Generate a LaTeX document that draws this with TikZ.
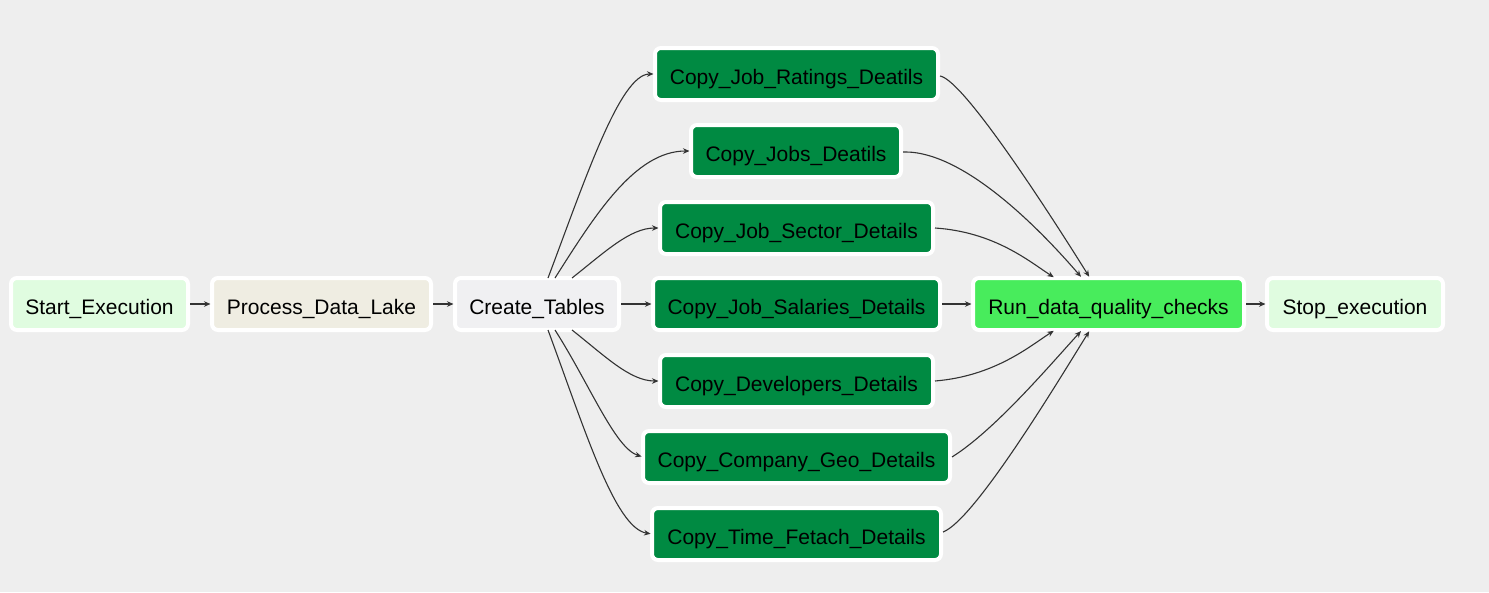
\documentclass[tikz,border=0pt]{standalone}
\usepackage{fontspec}
\setmainfont{Liberation Sans}
\usetikzlibrary{arrows.meta,calc}
\definecolor{bg}{HTML}{EEEEEE}
\definecolor{startc}{HTML}{E0FCE0}
\definecolor{procc}{HTML}{EFEDE2}
\definecolor{ctc}{HTML}{F0F0F2}
\definecolor{copyc}{HTML}{008A42}
\definecolor{runc}{HTML}{48EC5C}
\definecolor{edgec}{HTML}{333333}
\tikzset{
  task/.style={draw=white, line width=4pt, rounded corners=6pt, minimum height=52pt,
    inner sep=0pt, outer sep=0pt, text height=24pt, text depth=4pt,
    font=\fontsize{21}{24}\selectfont, text=black},
  edge/.style={draw=edgec, line width=1.1pt, -{Stealth[length=6.5pt,width=5.5pt]}, shorten >=1.5pt}
}
\begin{document}
\begin{tikzpicture}[x=1pt,y=-1pt]
\useasboundingbox (0,0) rectangle (1489,592);
\fill[bg] (0,0) rectangle (1489,592);
\node[task, fill=startc, minimum width=177pt] (st) at (99.5,304) {Start\_Execution};
\node[task, fill=procc, minimum width=219pt] (pd) at (321.5,304) {Process\_Data\_Lake};
\node[task, fill=ctc, minimum width=164pt] (ct) at (537,304) {Create\_Tables};
\node[task, fill=copyc, minimum width=283pt] (r1) at (796.5,74) {Copy\_Job\_Ratings\_Deatils};
\node[task, fill=copyc, minimum width=210pt] (r2) at (796,151) {Copy\_Jobs\_Deatils};
\node[task, fill=copyc, minimum width=273pt] (r3) at (796.5,228) {Copy\_Job\_Sector\_Details};
\node[task, fill=copyc, minimum width=287pt] (r4) at (796.5,304) {Copy\_Job\_Salaries\_Details};
\node[task, fill=copyc, minimum width=273pt] (r5) at (796.5,381) {Copy\_Developers\_Details};
\node[task, fill=copyc, minimum width=307pt] (r6) at (796.5,457) {Copy\_Company\_Geo\_Details};
\node[task, fill=copyc, minimum width=289pt] (r7) at (796.5,534) {Copy\_Time\_Fetach\_Details};
\node[task, fill=runc, minimum width=271pt] (rq) at (1108.5,304) {Run\_data\_quality\_checks};
\node[task, fill=startc, minimum width=176pt] (sp) at (1355,304) {Stop\_execution};

\draw[edge] (st.east) ++(2,0) -- (pd.west);
\draw[edge] (pd.east) ++(2,0) -- (ct.west);
\draw[edge] (ct.east) ++(2,0) -- (r4.west);
\draw[edge] (r4.east) ++(2,0) -- (rq.west);
\draw[edge] (rq.east) ++(2,0) -- (sp.west);

\draw[edge] ([xshift=11pt]ct.north) .. controls (585,180) and (620,74) .. (r1.west);
\draw[edge] ([xshift=18pt]ct.north) .. controls (595,215) and (635,151) .. (r2.west);
\draw[edge] ([xshift=35pt]ct.north) .. controls (605,252) and (630,228) .. (r3.west);
\draw[edge] ([xshift=35pt]ct.south) .. controls (605,356) and (630,381) .. (r5.west);
\draw[edge] ([xshift=18pt]ct.south) .. controls (590,385) and (615,448) .. (r6.west);
\draw[edge] ([xshift=11pt]ct.south) .. controls (585,430) and (615,528) .. (r7.west);

\draw[edge] (r1.east) ++(2,2) .. controls (965,80) and (1060,230) .. ([xshift=-18.5pt]rq.north);
\draw[edge] (r2.east) ++(2,1) .. controls (965,150) and (1045,235) .. ([xshift=-26.5pt]rq.north);
\draw[edge] (r3.east) ++(2,0) .. controls (995,232) and (1030,262) .. ([xshift=-53.5pt]rq.north);
\draw[edge] (r5.east) ++(2,0) .. controls (995,376) and (1030,346) .. ([xshift=-53.5pt]rq.south);
\draw[edge] (r6.east) ++(2,0) .. controls (995,430) and (1050,365) .. ([xshift=-26.5pt]rq.south);
\draw[edge] (r7.east) ++(2,-2) .. controls (975,520) and (1060,378) .. ([xshift=-18.5pt]rq.south);
\end{tikzpicture}
\end{document}
